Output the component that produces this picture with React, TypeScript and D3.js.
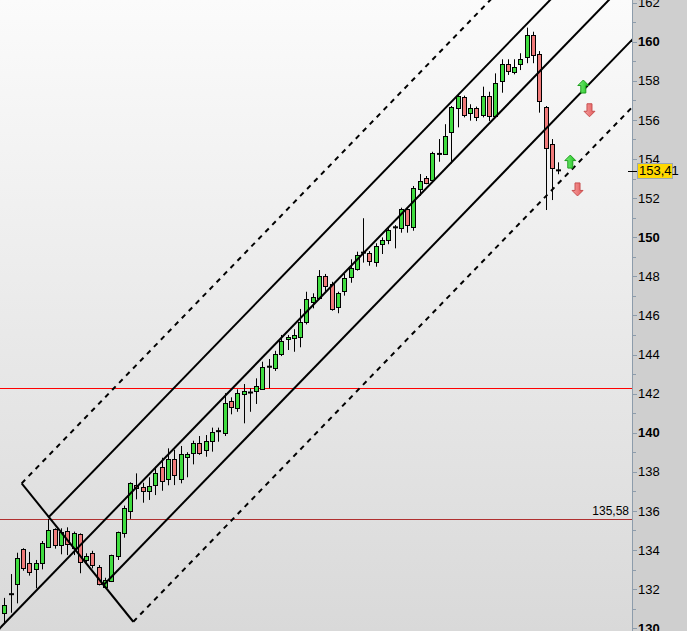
import React from "react";
import * as d3 from "d3";

const opens = [130.76,131.73,132.25,134.04,133.32,133.01,133.32,134.17,135.06,134.29,134.97,134.09,134.80,133.49,133.83,133.12,132.12,132.41,133.66,134.85,135.99,137.31,137.24,137.02,137.31,138.26,137.62,138.64,137.62,138.77,138.95,139.49,139.12,139.54,140.07,139.97,141.62,141.30,141.98,142.05,142.13,142.27,143.37,143.29,144.03,144.78,144.83,144.88,145.68,146.67,146.91,148.02,147.59,146.41,147.21,147.95,148.37,149.20,149.18,148.75,149.64,149.86,150.50,150.46,151.43,150.51,152.50,153.01,152.89,154.25,154.29,155.37,156.64,157.16,156.34,156.59,156.29,157.22,156.17,157.95,158.84,158.47,158.84,159.20,160.34,159.36,156.64,154.75,153.43];
const highs = [131.55,132.77,133.86,134.09,133.90,133.49,134.46,135.58,135.11,135.11,135.16,134.94,134.85,133.83,133.96,133.23,132.58,133.76,134.94,136.27,137.46,137.92,137.44,137.72,138.26,138.72,139.20,139.12,139.32,139.00,139.59,139.83,139.88,140.26,140.26,142.02,141.81,142.22,142.49,142.27,142.78,143.63,143.77,144.19,145.00,145.00,145.29,146.33,147.21,147.13,148.32,148.12,147.72,147.21,148.12,148.87,149.26,150.97,149.29,149.69,149.99,150.46,150.62,151.51,151.51,152.62,153.23,153.13,154.37,155.02,155.78,156.71,157.31,157.24,156.80,156.68,157.70,157.44,158.38,159.10,159.10,159.10,159.41,160.72,160.51,159.52,156.71,155.02,153.83];
const lows = [130.27,130.79,131.27,132.94,132.69,132.04,133.01,134.12,134.07,133.78,133.74,133.74,132.81,133.35,133.06,132.19,132.04,132.36,133.49,134.63,135.59,136.59,136.42,136.56,136.81,137.03,137.31,137.32,137.41,137.72,138.38,138.87,138.77,139.03,139.54,139.83,140.94,141.07,140.48,141.07,141.47,142.22,142.27,143.16,143.92,144.23,144.14,144.37,145.54,146.36,146.82,147.21,146.24,146.11,147.01,147.67,148.29,148.70,148.54,148.49,149.14,149.64,149.43,150.23,150.23,150.33,152.12,152.71,152.84,153.86,154.24,153.78,155.62,156.13,155.96,155.94,156.13,155.94,156.13,157.39,158.30,158.33,158.55,158.90,158.90,156.37,151.39,151.90,153.22];
const closes = [131.17,131.75,133.58,133.09,132.86,133.32,134.34,135.02,134.24,134.94,134.29,134.85,133.39,133.68,133.22,132.25,132.47,133.73,134.91,136.13,137.41,137.16,137.02,137.26,137.92,137.53,138.64,137.82,138.90,138.91,139.46,139.00,139.56,140.02,140.09,141.50,141.30,142.05,142.13,142.06,142.39,143.38,143.38,144.01,144.71,144.88,145.00,145.64,146.84,146.93,148.02,147.52,146.31,147.13,147.90,148.41,149.09,149.22,148.75,149.57,149.86,150.37,150.51,151.44,150.62,152.50,152.89,152.76,154.29,154.27,155.19,156.64,157.24,156.25,156.59,156.13,157.24,156.20,157.87,158.84,158.50,158.72,159.10,160.34,159.32,156.97,154.55,153.52,153.41];

const yTicks = d3.range(130, 163, 2);
const minorTicks = d3.range(131, 163, 2);
const boldTicks = [130, 140, 150, 160];

// channel: parallel lines, start point [barIndex, value]
const channelSlope = 0.3321;
const channelLines = [
  { start: [2.76, 137.41], dashed: true },
  { start: [6.99, 135.66], dashed: false },
  { start: [-1.5, 129.74], dashed: false },
  { start: [15.73, 132.2], dashed: false },
  { start: [20.49, 130.33], dashed: true },
];
const baseLine = [[2.76, 137.41], [20.49, 130.33]];

const hLines = [
  { value: 142.27, color: "#ff0000", label: "" },
  { value: 135.58, color: "#b03030", label: "135,58" },
];
const lastPrice = 153.41;
const lastPriceLabel = "153,41";

const signals = [
  { i: 91.98, v: 158.04, dir: "up" },
  { i: 92.96, v: 156.16, dir: "down" },
  { i: 89.91, v: 154.2, dir: "up" },
  { i: 91.06, v: 152.11, dir: "down" },
];

const W = 687, H = 631, AX = 632;

export default function App() {
  const x = d3.scaleLinear().domain([0, 88]).range([4.3, 4.3 + 88 * 6.295]);
  const y = d3.scaleLinear().domain([130, 160]).range([628.2, 41.7]);
  const font = "'Liberation Sans', Arial, sans-serif";
  const endI = 110;

  const candles = opens.map((o, i) => {
    const c = closes[i];
    const cx = Math.round(x(i));
    const up = c >= o;
    const yt = y(Math.max(o, c));
    const yb = y(Math.min(o, c));
    const hgt = yb - yt;
    return (
      <g key={i}>
        <line x1={cx + 0.5} x2={cx + 0.5} y1={y(highs[i])} y2={y(lows[i])} stroke="#000" strokeWidth={1} />
        {hgt < 1.5 ? (
          <line x1={cx - 2} x2={cx + 3} y1={(yt + yb) / 2} y2={(yt + yb) / 2} stroke="#000" strokeWidth={2} />
        ) : (
          <rect x={cx - 1.5} y={Math.round(yt) + 0.5} width={4} height={Math.max(1, Math.round(hgt))}
            fill={up ? "#3fdc3f" : "#f07a7a"} stroke="#000" strokeWidth={1} />
        )}
      </g>
    );
  });

  const arrow = (s, k) => {
    const cx = x(s.i);
    const ty = y(s.v);
    let d;
    if (s.dir === "up") {
      d = `M${cx},${ty} L${cx + 5.5},${ty + 5.5} L${cx + 2.5},${ty + 5.5} L${cx + 2.5},${ty + 13} L${cx - 2.5},${ty + 13} L${cx - 2.5},${ty + 5.5} L${cx - 5.5},${ty + 5.5} Z`;
    } else {
      d = `M${cx},${ty} L${cx + 5.5},${ty - 5.5} L${cx + 2.5},${ty - 5.5} L${cx + 2.5},${ty - 13} L${cx - 2.5},${ty - 13} L${cx - 2.5},${ty - 5.5} L${cx - 5.5},${ty - 5.5} Z`;
    }
    return (
      <path key={k} d={d} fill={s.dir === "up" ? "url(#gUp)" : "url(#gDn)"}
        stroke={s.dir === "up" ? "#1e9e1e" : "#c85050"} strokeWidth={1} strokeLinejoin="miter" />
    );
  };

  return (
    <div style={{ position: "absolute", left: 0, top: 0 }}>
      <svg width={W} height={H} style={{ display: "block" }}>
        <defs>
          <linearGradient id="bg" x1="0" y1="0" x2="0" y2="1">
            <stop offset="0" stopColor="#fbfbfb" />
            <stop offset="1" stopColor="#d9d9d9" />
          </linearGradient>
          <linearGradient id="gUp" x1="0" y1="0" x2="1" y2="0">
            <stop offset="0" stopColor="#7cf07c" />
            <stop offset="1" stopColor="#1fc21f" />
          </linearGradient>
          <linearGradient id="gDn" x1="0" y1="0" x2="1" y2="0">
            <stop offset="0" stopColor="#f7a0a0" />
            <stop offset="1" stopColor="#e25a5a" />
          </linearGradient>
          <clipPath id="plot">
            <rect x={0} y={0} width={AX} height={H} />
          </clipPath>
        </defs>
        <rect x={0} y={0} width={AX} height={H} fill="url(#bg)" />
        <rect x={AX} y={0} width={W - AX} height={H} fill="#cfcfcf" />
        <g clipPath="url(#plot)">
          {hLines.map((h, k) => (
            <line key={k} x1={0} x2={AX} y1={Math.round(y(h.value)) + 0.5} y2={Math.round(y(h.value)) + 0.5}
              stroke={h.color} strokeWidth={1.2} />
          ))}
          {candles}
          <line x1={x(baseLine[0][0])} y1={y(baseLine[0][1])} x2={x(baseLine[1][0])} y2={y(baseLine[1][1])}
            stroke="#000" strokeWidth={2} />
          {channelLines.map((l, k) => (
            <line key={k} x1={x(l.start[0])} y1={y(l.start[1])}
              x2={x(endI)} y2={y(l.start[1] + (endI - l.start[0]) * channelSlope)}
              stroke="#000" strokeWidth={2} strokeDasharray={l.dashed ? "5,5" : undefined} />
          ))}
          {signals.map(arrow)}
          {hLines.filter((h) => h.label).map((h, k) => (
            <text key={k} x={629} y={y(h.value) - 4} textAnchor="end" fontFamily={font} fontSize={12} fill="#000">
              {h.label}
            </text>
          ))}
        </g>
        <line x1={AX + 0.5} x2={AX + 0.5} y1={0} y2={H} stroke="#8d9cab" strokeWidth={1} />
        {minorTicks.map((t) => (
          <line key={"m" + t} x1={AX} x2={AX + 4} y1={Math.round(y(t)) + 0.5} y2={Math.round(y(t)) + 0.5}
            stroke="#8d9cab" strokeWidth={1} />
        ))}
        {yTicks.map((t) => (
          <g key={t}>
            <line x1={AX} x2={AX + 5} y1={Math.round(y(t)) + 0.5} y2={Math.round(y(t)) + 0.5} stroke="#8d9cab" strokeWidth={1} />
            <text x={AX + 6} y={y(t)} dy="0.36em" fontFamily={font} fontSize={13}
              fontWeight={boldTicks.includes(t) ? "bold" : "normal"} fill="#000">
              {t}
            </text>
          </g>
        ))}
        <line x1={AX - 4} x2={AX + 5} y1={Math.round(y(lastPrice)) + 0.5} y2={Math.round(y(lastPrice)) + 0.5}
          stroke="#000" strokeWidth={1} />
        <rect x={AX + 5.5} y={Math.round(y(lastPrice)) - 7.5} width={35} height={15} fill="#ffd800" stroke="#9aa6b2" strokeWidth={1} />
        <text x={AX + 7} y={y(lastPrice)} dy="0.36em" fontFamily={font} fontSize={13} fill="#000">
          {lastPriceLabel}
        </text>
      </svg>
    </div>
  );
}
